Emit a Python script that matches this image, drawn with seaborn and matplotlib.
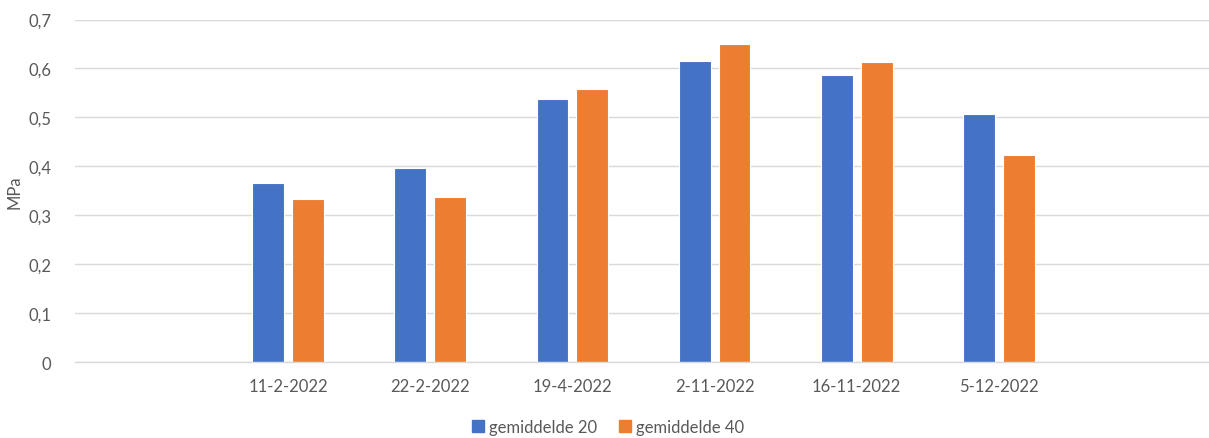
import pandas as pd
import matplotlib
matplotlib.use("Agg")
import matplotlib.pyplot as plt
import seaborn as sns

# data
dates = ["11-2-2022", "22-2-2022", "19-4-2022", "2-11-2022", "16-11-2022", "5-12-2022"]
gem20 = [0.366, 0.397, 0.538, 0.615, 0.587, 0.507]
gem40 = [0.334, 0.338, 0.558, 0.651, 0.613, 0.424]
series = ["gemiddelde 20", "gemiddelde 40"]
colors = ["#4472C4", "#ED7D31"]
yticks = [0, 0.1, 0.2, 0.3, 0.4, 0.5, 0.6, 0.7]
ytick_labels = ["0", "0,1", "0,2", "0,3", "0,4", "0,5", "0,6", "0,7"]

df = pd.DataFrame({
    "datum": dates * 2,
    "waarde": gem20 + gem40,
    "reeks": [series[0]] * len(dates) + [series[1]] * len(dates),
})
# empty slots on both sides, as in the original chart
order = [" "] + dates + ["  "]

sns.set_theme(style="white")
plt.rcParams["font.family"] = ["Lato", "DejaVu Sans"]

fig = plt.figure(figsize=(12.09, 4.39), dpi=100)
ax = fig.add_axes([0.062, 0.172, 0.9405, 0.7813])

sns.barplot(data=df, x="datum", y="waarde", hue="reeks", order=order,
            hue_order=series, palette=colors, saturation=1, width=0.56, gap=0.2,
            edgecolor="white", linewidth=0.8, ax=ax, legend=False)

ax.set_xlim(-0.5, 7.5)
ax.set_ylim(0, 0.7)
ax.set_yticks(yticks)
ax.set_yticklabels(ytick_labels)
ax.yaxis.grid(True, color="#D9D9D9", linewidth=1.0)
ax.set_axisbelow(True)
for s in ["top", "right", "left"]:
    ax.spines[s].set_visible(False)
ax.spines["bottom"].set_color("#D9D9D9")
ax.spines["bottom"].set_linewidth(1.0)
ax.tick_params(axis="both", length=0, labelsize=12, colors="#595959")
ax.tick_params(axis="x", pad=11)
ax.tick_params(axis="y", pad=17)
ax.set_xlabel("")
ax.set_ylabel("MPa", fontsize=12, color="#595959", labelpad=4)

handles = [plt.Rectangle((0, 0), 1, 1, color=c) for c in colors]
fig.legend(handles, series, loc="center", bbox_to_anchor=(0.503, 0.025), ncol=2,
           frameon=False, fontsize=12, handlelength=0.75, handleheight=0.75,
           handletextpad=0.3, columnspacing=1.3, labelcolor="#595959")

fig.savefig("out.png", dpi=100)
plt.close(fig)
